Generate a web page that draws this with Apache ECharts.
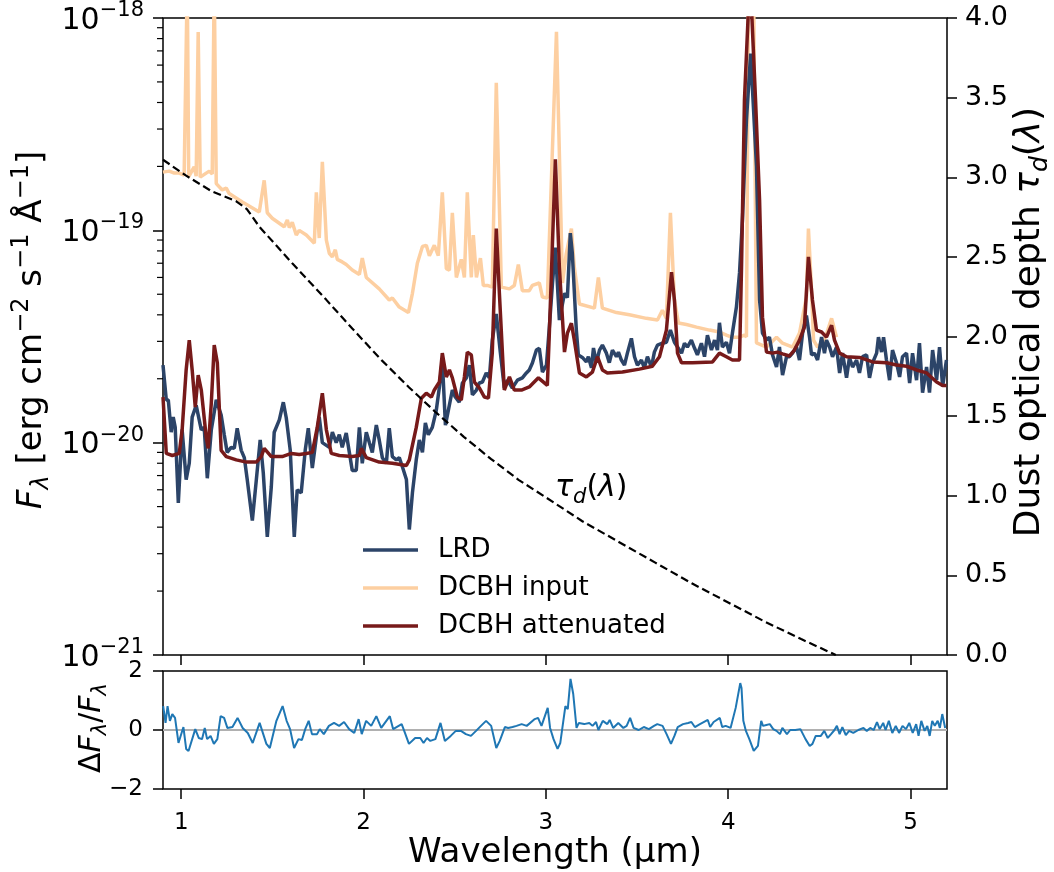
<!DOCTYPE html>
<html><head><meta charset="utf-8">
<script src="https://cdn.jsdelivr.net/npm/echarts@6/dist/echarts.min.js"></script>
<style>html,body{margin:0;padding:0;background:#fff}#c{width:1054px;height:872px}</style>
</head><body><div id="c"></div>
<script>
// ---------------- data ----------------
// flux arrays are in units of 1e-20 erg cm^-2 s^-1 A^-1 (FLUX_EXP = -20)
const FLUX_EXP = -20;
const X_MIN = 0.9, X_MAX = 5.2;
const xTicks = [1, 2, 3, 4, 5];
const fluxDecades = [0.1, 1, 10, 100];   // = 1e-21 ... 1e-18

const lrdWave = [0.900,0.918,0.929,0.945,0.956,0.967,0.984,1.005,1.027,1.044,1.060,1.082,1.110,1.126,1.143,1.165,1.192,1.219,1.236,1.252,1.274,1.291,1.307,1.329,1.346,1.362,1.390,1.412,1.433,1.450,1.472,1.494,1.510,1.538,1.560,1.576,1.598,1.620,1.636,1.658,1.680,1.697,1.719,1.741,1.757,1.774,1.812,1.829,1.850,1.867,1.883,1.905,1.922,1.938,1.960,1.977,1.993,2.015,2.032,2.048,2.070,2.086,2.103,2.125,2.141,2.158,2.180,2.196,2.213,2.235,2.251,2.268,2.289,2.306,2.323,2.339,2.355,2.377,2.399,2.416,2.432,2.449,2.465,2.487,2.503,2.525,2.542,2.564,2.580,2.597,2.619,2.635,2.652,2.673,2.690,2.706,2.728,2.750,2.772,2.789,2.816,2.844,2.871,2.893,2.909,2.926,2.948,2.964,2.981,3.003,3.019,3.036,3.052,3.074,3.102,3.118,3.134,3.145,3.167,3.178,3.200,3.222,3.233,3.250,3.261,3.277,3.294,3.310,3.332,3.348,3.365,3.387,3.398,3.414,3.431,3.447,3.469,3.486,3.502,3.524,3.540,3.557,3.579,3.595,3.612,3.639,3.661,3.683,3.705,3.722,3.744,3.760,3.776,3.798,3.815,3.831,3.853,3.870,3.886,3.908,3.925,3.941,3.952,3.968,3.990,4.007,4.023,4.045,4.062,4.078,4.100,4.123,4.139,4.155,4.172,4.188,4.210,4.226,4.243,4.265,4.281,4.298,4.320,4.336,4.353,4.375,4.391,4.408,4.429,4.446,4.457,4.473,4.490,4.512,4.528,4.539,4.556,4.572,4.594,4.611,4.627,4.649,4.665,4.682,4.704,4.720,4.737,4.759,4.775,4.792,4.814,4.824,4.841,4.852,4.868,4.885,4.901,4.923,4.940,4.956,4.978,4.995,5.011,5.033,5.049,5.066,5.088,5.104,5.121,5.143,5.159,5.176,5.197];
const lrdFlux = [2.32,1.59,1.59,1.12,1.32,1.18,0.52,1.15,0.67,0.80,1.32,1.50,1.15,1.18,0.68,1.15,1.59,1.35,1.09,0.90,0.95,0.94,1.17,0.92,0.85,0.67,0.43,0.67,1.03,0.72,0.36,0.62,1.12,1.28,1.55,1.31,0.92,0.36,0.60,0.58,0.92,1.17,0.76,1.06,1.32,1.00,0.95,1.12,1.00,1.09,0.95,1.11,0.90,0.74,0.74,1.18,0.80,1.12,1.00,0.90,1.21,1.03,0.85,0.80,1.17,0.86,0.83,0.85,0.77,0.67,0.39,0.58,0.83,1.03,0.90,1.24,1.09,1.18,1.42,1.83,2.45,1.21,1.42,1.77,1.64,1.55,1.91,2.02,2.32,1.68,1.77,1.91,1.93,2.13,2.02,3.04,4.04,2.67,1.81,1.97,1.81,1.97,2.02,2.13,2.20,2.37,2.73,2.78,2.15,2.32,3.50,5.6,8.3,3.78,5.05,4.82,9.7,7.8,3.39,2.59,2.52,2.40,2.54,2.25,2.79,2.38,2.73,2.88,2.64,2.38,2.73,2.54,2.67,2.45,2.32,2.64,3.10,2.54,2.32,2.45,2.25,2.54,2.27,2.67,2.88,2.94,2.97,3.39,2.97,2.82,2.64,2.94,2.82,3.04,2.79,2.59,2.94,2.54,3.21,2.73,3.04,2.73,3.67,2.82,2.97,2.64,3.28,4.35,6.3,11.2,33,68,37,20,4.70,3.28,3.04,3.14,2.59,2.27,2.82,2.08,2.54,2.54,2.64,2.82,2.45,3.28,3.97,3.14,2.59,2.64,2.45,3.14,2.64,3.04,2.82,2.54,2.82,2.13,2.64,2.02,2.52,2.27,2.45,2.13,2.54,2.59,2.02,2.38,2.64,3.14,2.67,3.14,2.45,1.97,2.73,2.38,2.04,2.54,2.64,1.91,2.64,1.97,2.94,1.72,2.27,1.72,2.73,1.97,2.82,1.84,2.45];

const inputWave = [0.900,0.934,0.962,0.989,1.016,1.025,1.033,1.041,1.049,1.071,1.082,1.093,1.104,1.110,1.137,1.154,1.170,1.181,1.192,1.198,1.225,1.247,1.263,1.335,1.428,1.455,1.472,1.499,1.565,1.582,1.593,1.609,1.631,1.647,1.686,1.730,1.741,1.757,1.774,1.796,1.812,1.829,1.845,1.856,1.883,1.905,1.938,1.977,1.993,2.015,2.086,2.141,2.158,2.196,2.246,2.268,2.295,2.323,2.344,2.361,2.388,2.410,2.432,2.454,2.471,2.487,2.509,2.536,2.553,2.569,2.591,2.602,2.619,2.641,2.657,2.679,2.706,2.728,2.756,2.800,2.827,2.849,2.871,2.909,2.926,2.964,2.981,3.008,3.058,3.091,3.112,3.140,3.156,3.184,3.266,3.288,3.310,3.387,3.458,3.551,3.612,3.639,3.661,3.683,3.705,3.727,3.771,3.826,3.897,3.952,3.990,4.018,4.062,4.089,4.100,4.111,4.139,4.155,4.210,4.265,4.298,4.353,4.391,4.429,4.440,4.457,4.468,4.490,4.528,4.567,4.594];
const inputFlux = [18.8,19.0,18.6,18.6,18.2,18.0,150,17.9,17.8,19.9,18.0,86,17.8,17.8,18.6,19.0,18.4,150,16.6,16.3,15.5,15.8,14.9,13.6,12.2,17.2,12.1,11.4,10.4,11.2,10.3,10.9,9.5,10.0,9.5,8.7,15.1,9.2,21.0,9.0,7.8,7.5,8.1,7.3,7.1,6.9,6.5,6.2,7.4,6.0,5.3,4.7,4.8,4.35,4.1,5.05,7.0,8.4,8.5,7.6,8.5,7.6,15.1,6.6,6.5,12.1,6.0,7.3,6.0,15.1,6.0,9.5,6.0,7.4,5.5,5.5,5.4,49.5,5.4,5.3,5.5,6.9,5.2,5.2,5.5,5.65,4.85,4.8,86,5.65,7.8,10.2,6.7,4.5,4.3,6.0,4.3,4.1,4.0,3.85,3.78,4.2,3.85,12.1,4.7,3.66,3.6,3.5,3.39,3.32,3.21,3.14,3.14,3.21,3.15,150,150,2.95,2.82,3.14,2.94,2.82,3.28,4.85,10.2,5.23,3.04,2.82,3.04,3.85,3.14];

const attWave = [0.900,0.918,0.951,0.989,1.005,1.027,1.044,1.060,1.077,1.093,1.110,1.137,1.148,1.165,1.181,1.198,1.219,1.247,1.302,1.357,1.412,1.439,1.455,1.494,1.554,1.604,1.647,1.686,1.719,1.746,1.774,1.796,1.823,1.867,1.938,1.977,1.988,2.015,2.086,2.158,2.235,2.251,2.289,2.317,2.344,2.372,2.388,2.416,2.432,2.454,2.471,2.487,2.514,2.536,2.553,2.569,2.591,2.608,2.635,2.663,2.685,2.706,2.728,2.745,2.772,2.800,2.827,2.866,2.909,2.959,3.008,3.019,3.052,3.074,3.102,3.118,3.140,3.156,3.184,3.222,3.255,3.283,3.310,3.337,3.420,3.513,3.584,3.623,3.661,3.689,3.705,3.722,3.744,3.804,3.914,3.952,3.990,4.023,4.062,4.073,4.089,4.111,4.128,4.150,4.172,4.188,4.210,4.243,4.270,4.298,4.336,4.363,4.391,4.418,4.440,4.462,4.484,4.512,4.539,4.567,4.583,4.611,4.649,4.720,4.792,4.868,4.923,4.978,5.033,5.088,5.143,5.176,5.197];
const attFlux = [1.64,0.89,0.87,0.89,1.15,2.20,3.04,2.20,1.47,2.08,1.77,1.06,0.94,1.54,2.88,2.38,0.92,0.86,0.83,0.81,0.81,0.86,0.94,0.86,0.86,0.89,0.88,0.89,0.90,1.18,1.71,1.15,0.89,0.87,0.86,0.87,0.94,0.85,0.81,0.80,0.78,0.83,1.18,1.62,1.71,1.64,1.77,1.93,2.64,2.04,2.20,2.02,1.64,1.59,2.04,2.67,2.59,1.93,1.81,1.64,1.62,2.64,10.2,5.05,1.77,2.04,1.77,1.77,1.83,2.02,1.86,3.28,21.6,6.7,2.67,3.28,3.65,3.04,2.13,2.04,2.15,2.54,2.20,2.13,2.15,2.22,2.29,2.54,3.39,6.35,4.70,2.64,2.38,2.38,2.40,2.64,2.54,2.45,2.45,6.7,41,110,110,41,13.9,3.90,2.67,2.64,2.67,2.62,2.56,2.73,3.04,3.50,7.5,4.70,3.39,3.32,3.14,3.57,3.04,2.64,2.54,2.52,2.40,2.38,2.32,2.29,2.20,2.13,1.93,1.86,1.86];

const tauWave = [0.900,1.027,1.170,1.300,1.360,1.428,1.609,1.796,1.938,2.100,2.250,2.400,2.550,2.700,2.850,3.000,3.200,3.400,3.600,3.800,4.000,4.200,4.400,4.590];
const tauValue = [3.11,3.01,2.91,2.85,2.80,2.69,2.46,2.23,2.05,1.85,1.68,1.52,1.37,1.23,1.10,0.99,0.84,0.71,0.58,0.45,0.33,0.21,0.10,0.0];

const residWave = [0.901,0.914,0.925,0.938,0.951,0.966,0.985,1.012,1.027,1.040,1.077,1.096,1.114,1.129,1.142,1.161,1.179,1.198,1.216,1.235,1.253,1.281,1.309,1.337,1.365,1.392,1.430,1.467,1.486,1.522,1.556,1.578,1.597,1.619,1.643,1.662,1.680,1.699,1.717,1.745,1.760,1.782,1.810,1.838,1.866,1.893,1.921,1.949,1.973,1.990,2.014,2.042,2.070,2.097,2.144,2.162,2.209,2.227,2.249,2.283,2.311,2.329,2.348,2.366,2.394,2.422,2.446,2.478,2.506,2.534,2.561,2.589,2.617,2.644,2.672,2.700,2.728,2.747,2.775,2.793,2.817,2.839,2.867,2.895,2.939,2.957,2.976,3.010,3.023,3.042,3.064,3.079,3.107,3.120,3.135,3.150,3.168,3.181,3.210,3.238,3.256,3.275,3.288,3.312,3.337,3.350,3.369,3.397,3.425,3.443,3.462,3.481,3.509,3.537,3.565,3.593,3.611,3.640,3.662,3.686,3.705,3.723,3.752,3.780,3.798,3.817,3.845,3.888,3.901,3.920,3.954,3.967,3.986,4.013,4.041,4.066,4.073,4.083,4.097,4.116,4.140,4.163,4.181,4.191,4.209,4.228,4.247,4.265,4.284,4.297,4.322,4.340,4.368,4.396,4.424,4.447,4.462,4.480,4.508,4.527,4.546,4.564,4.583,4.596,4.611,4.626,4.645,4.663,4.686,4.714,4.742,4.760,4.779,4.798,4.816,4.831,4.850,4.863,4.881,4.900,4.919,4.937,4.956,4.975,4.993,5.012,5.031,5.044,5.059,5.077,5.092,5.105,5.119,5.133,5.149,5.161,5.174,5.190];
const residValue = [0.81,0.24,0.81,0.31,0.54,0.41,-0.44,0.10,-0.64,-0.71,0.03,-0.27,-0.31,0.07,-0.31,-0.20,-0.47,-0.31,0.47,0.41,0.07,0.10,0.41,0.07,-0.10,-0.44,0.24,-0.47,-0.61,0.31,0.81,0.31,0.03,-0.61,-0.31,-0.34,0.03,0.31,-0.14,-0.14,0.03,-0.14,0.14,0.24,0.14,0.27,0.03,-0.10,0.37,-0.14,0.31,0.14,0.47,0.07,0.47,0.03,0.20,-0.10,-0.47,-0.27,-0.27,-0.44,-0.27,-0.37,-0.31,0.24,-0.37,-0.20,-0.03,-0.03,-0.14,-0.20,-0.03,0.14,0.31,0.14,-0.61,-0.37,0.10,0.07,0.10,0.14,0.20,0.14,0.37,0.41,0.14,0.75,0.07,-0.31,-0.64,-0.44,0.81,0.71,1.73,1.22,0.07,0.24,0.20,0.24,0.14,0.27,0.0,0.31,0.20,0.34,0.07,0.24,0.07,0.14,0.41,0.07,0.0,0.10,0.03,0.14,0.20,0.14,-0.14,-0.47,-0.20,0.10,0.20,0.24,0.27,0.10,0.20,0.34,0.10,0.27,0.41,0.10,0.14,0.07,0.75,1.59,1.42,0.31,-0.03,-0.31,-0.71,-0.54,0.31,0.14,0.17,0.20,0.03,-0.03,-0.14,0.07,-0.14,0.0,0.0,0.03,-0.31,-0.54,-0.47,-0.20,-0.20,-0.03,-0.27,-0.14,0.0,0.14,-0.14,0.10,-0.17,-0.03,-0.10,0.0,0.07,-0.03,0.07,0.0,0.27,0.03,0.24,0.0,0.31,-0.10,0.14,-0.10,0.14,0.03,0.24,-0.10,0.20,-0.20,0.31,-0.03,0.14,-0.20,0.31,0.14,0.31,0.07,0.54,0.07];

// ---------------- chart ----------------
const FONT = 'DejaVu Sans';
const pair = (xs, ys) => xs.map((x, i) => [x, ys[i]]);
const minorTickValues = [];
for (let d = 0; d < fluxDecades.length - 1; d++) for (let m = 2; m <= 9; m++) minorTickValues.push(+(m * fluxDecades[d]).toPrecision(3));

const chart = echarts.init(document.getElementById('c'), null, {renderer: 'canvas'});
const tickStyle = {color: '#000', width: 1.5};
const LW = 3.5;

const option = {
  animation: false,
  backgroundColor: '#fff',
  textStyle: {fontFamily: FONT, color: '#000'},
  grid: [
    {left: 163, top: 18, width: 784, height: 637, show: true, borderColor: '#000', borderWidth: 1.5, backgroundColor: 'transparent'},
    {left: 163, top: 671, width: 784, height: 118, show: true, borderColor: '#000', borderWidth: 1.5, backgroundColor: 'transparent'}
  ],
  xAxis: [
    {type: 'value', gridIndex: 0, min: X_MIN, max: X_MAX, axisLine: {show: false, onZero: false}, splitLine: {show: false},
     axisTick: {show: true, customValues: xTicks, length: 10, lineStyle: tickStyle}, axisLabel: {show: false}},
    {type: 'value', gridIndex: 1, min: X_MIN, max: X_MAX, axisLine: {show: false, onZero: false}, splitLine: {show: false},
     axisTick: {show: true, customValues: xTicks, length: 10, lineStyle: tickStyle},
     axisLabel: {show: true, customValues: xTicks, fontSize: 23, margin: 23, color: '#000', fontFamily: FONT}}
  ],
  yAxis: [
    {type: 'log', logBase: 10, gridIndex: 0, min: fluxDecades[0], max: fluxDecades[fluxDecades.length - 1], position: 'left',
     axisLine: {show: false, onZero: false}, splitLine: {show: false},
     axisTick: {show: true, length: 10, lineStyle: tickStyle},
     axisLabel: {margin: 19, fontFamily: FONT, color: '#000',
       formatter: v => { const e = Math.round(Math.log10(v)) + FLUX_EXP; return '{a|10}{b|−' + (-e) + '}'; },
       rich: {a: {fontSize: 30, lineHeight: 36, verticalAlign: 'bottom', fontFamily: FONT, color: '#000'},
              b: {fontSize: 21, lineHeight: 19, verticalAlign: 'top', fontFamily: FONT, color: '#000'}}}},
    {type: 'value', gridIndex: 0, min: 0, max: 4, interval: 0.5, position: 'right',
     axisLine: {show: false, onZero: false}, splitLine: {show: false},
     axisTick: {show: true, length: 10, lineStyle: tickStyle},
     axisLabel: {margin: 18, fontSize: 27, color: '#000', fontFamily: FONT, formatter: v => v.toFixed(1)}},
    {type: 'value', gridIndex: 1, min: -2, max: 2, interval: 2, position: 'left',
     axisLine: {show: false, onZero: false}, splitLine: {show: false},
     axisTick: {show: true, length: 10, lineStyle: tickStyle},
     axisLabel: {margin: 20, fontSize: 23, color: '#000', fontFamily: FONT, formatter: v => v < 0 ? '−' + Math.abs(v) : String(v)}}
  ],
  legend: {
    data: ['LRD', 'DCBH input', 'DCBH attenuated'],
    orient: 'vertical', left: 358, top: 530, itemWidth: 55, itemHeight: 3.5, itemGap: 8, icon: 'rect',
    textStyle: {fontSize: 26, fontFamily: FONT, color: '#000', lineHeight: 30, padding: [0, 0, 0, 15]},
    selectedMode: false
  },
  series: [
    {name: 'DCBH input', type: 'line', xAxisIndex: 0, yAxisIndex: 0, data: pair(inputWave, inputFlux),
     symbol: 'none', lineStyle: {color: '#fdcfa1', width: LW}, itemStyle: {color: '#fdcfa1'}, z: 2},
    {name: 'LRD', type: 'line', xAxisIndex: 0, yAxisIndex: 0, data: pair(lrdWave, lrdFlux),
     symbol: 'none', lineStyle: {color: '#2c4468', width: LW}, itemStyle: {color: '#2c4468'}, z: 3},
    {name: 'DCBH attenuated', type: 'line', xAxisIndex: 0, yAxisIndex: 0, data: pair(attWave, attFlux),
     symbol: 'none', lineStyle: {color: '#771a1a', width: LW}, itemStyle: {color: '#771a1a'}, z: 4},
    {name: 'tau', type: 'line', xAxisIndex: 0, yAxisIndex: 1, data: pair(tauWave, tauValue),
     symbol: 'none', lineStyle: {color: '#000', width: 2.2, type: [8, 4]}, z: 5},
    {name: 'zero', type: 'line', xAxisIndex: 1, yAxisIndex: 2, data: [[X_MIN, 0], [X_MAX, 0]],
     symbol: 'none', lineStyle: {color: '#b0b0b0', width: 2}, z: 2},
    {name: 'residual', type: 'line', xAxisIndex: 1, yAxisIndex: 2, data: pair(residWave, residValue),
     symbol: 'none', lineStyle: {color: '#1f77b4', width: 2}, z: 3},
    {name: 'minorTicks', type: 'custom', xAxisIndex: 0, yAxisIndex: 0, silent: true, clip: false, z: 10,
     data: minorTickValues.map(v => [X_MIN, v]), encode: {x: 0, y: 1},
     renderItem: (params, api) => {
       const p = api.coord([api.value(0), api.value(1)]);
       return {type: 'line', shape: {x1: p[0] - 6, y1: p[1], x2: p[0], y2: p[1]}, style: {stroke: '#000', lineWidth: 1.2}};
     }}
  ],
  graphic: [
    {type: 'text', x: 32, y: 330, rotation: Math.PI / 2,
     style: {text: '{i|F}{s|λ}{n| [erg cm}{p|−2}{n| s}{p|−1}{n| Å}{p|−1}{n|]}', align: 'center', verticalAlign: 'middle',
       rich: {n: {fontSize: 34, lineHeight: 44, fontFamily: FONT, fill: '#000'},
              i: {fontSize: 34, lineHeight: 44, fontStyle: 'italic', fontFamily: FONT, fill: '#000'},
              s: {fontSize: 24, lineHeight: 26, verticalAlign: 'bottom', fontStyle: 'italic', fontFamily: FONT, fill: '#000'},
              p: {fontSize: 24, lineHeight: 24, verticalAlign: 'top', fontFamily: FONT, fill: '#000'}}}},
    {type: 'text', x: 1030, y: 322, rotation: Math.PI / 2,
     style: {text: '{n|Dust optical depth }{i|τ}{s|d}{n|(}{i|λ}{n|)}', align: 'center', verticalAlign: 'middle',
       rich: {n: {fontSize: 36, lineHeight: 46, fontFamily: FONT, fill: '#000'},
              i: {fontSize: 36, lineHeight: 46, fontStyle: 'italic', fontFamily: FONT, fill: '#000'},
              s: {fontSize: 25, lineHeight: 28, verticalAlign: 'bottom', fontStyle: 'italic', fontFamily: FONT, fill: '#000'}}}},
    {type: 'text', x: 92, y: 728, rotation: Math.PI / 2,
     style: {text: '{n|Δ}{i|F}{s|λ}{n|/}{i|F}{s|λ}', align: 'center', verticalAlign: 'middle',
       rich: {n: {fontSize: 30, lineHeight: 38, fontFamily: FONT, fill: '#000'},
              i: {fontSize: 30, lineHeight: 38, fontStyle: 'italic', fontFamily: FONT, fill: '#000'},
              s: {fontSize: 21, lineHeight: 23, verticalAlign: 'bottom', fontStyle: 'italic', fontFamily: FONT, fill: '#000'}}}},
    {type: 'text', x: 555, y: 853,
     style: {text: 'Wavelength (µm)', align: 'center', verticalAlign: 'middle', fontSize: 34, fontFamily: FONT, fill: '#000'}},
    {type: 'text', x: 555, y: 488,
     style: {text: '{i|τ}{s|d}{n|(}{i|λ}{n|)}', align: 'left', verticalAlign: 'middle',
       rich: {n: {fontSize: 30, lineHeight: 40, fontFamily: FONT, fill: '#000'},
              i: {fontSize: 30, lineHeight: 40, fontStyle: 'italic', fontFamily: FONT, fill: '#000'},
              s: {fontSize: 21, lineHeight: 24, verticalAlign: 'bottom', fontStyle: 'italic', fontFamily: FONT, fill: '#000'}}}}
  ]
};
chart.setOption(option);
</script>
</body></html>
